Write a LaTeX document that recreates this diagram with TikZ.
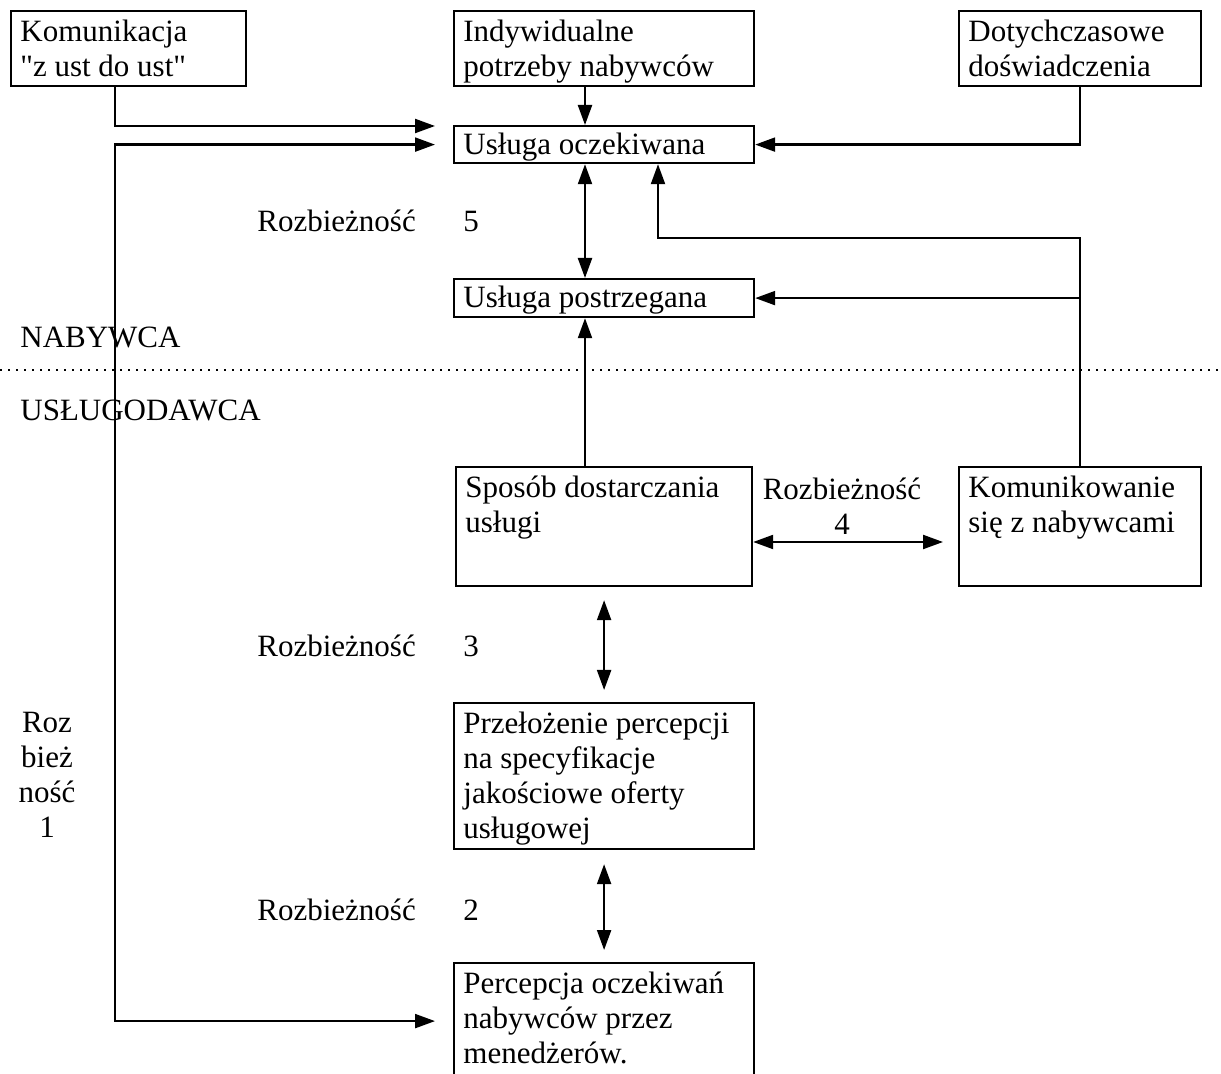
\documentclass[tikz,border=0pt]{standalone}
\usepackage{fontspec}
\setmainfont{Liberation Serif}
\usetikzlibrary{arrows.meta}

\begin{document}
\begin{tikzpicture}[x=0.5pt,y=-0.5pt,font=\fontsize{15.5}{17.5}\selectfont,>={Triangle[length=10pt,width=7pt]},
  box/.style={draw,line width=1.1pt,inner sep=0pt,anchor=north west},
  txt/.style={align=left,inner xsep=5pt,inner ysep=5pt,anchor=north west},
  lbl/.style={inner sep=0pt,anchor=base west},
  ar/.style={->,line width=1.1pt},
  dar/.style={<->,line width=1.1pt}]
\useasboundingbox (0,0) rectangle (1221,1074);
\clip (0,0) rectangle (1221,1074);
% boxes
\node[box,minimum width=117.5pt,minimum height=37.5pt,label={[txt]north west:Komunikacja\\\textquotedbl z ust do ust\textquotedbl}](kom) at (10,10){};
\node[box,minimum width=150pt,minimum height=37.5pt,label={[txt]north west:Indywidualne\\potrzeby nabywców}](ind) at (453,10){};
\node[box,minimum width=121pt,minimum height=37.5pt,label={[txt]north west:Dotychczasowe\\doświadczenia}](dot) at (958,10){};
\node[box,minimum width=150pt,minimum height=18.5pt,label={[txt,inner ysep=4pt]north west:Usługa oczekiwana}](exp) at (453,125){};
\node[box,minimum width=150pt,minimum height=19pt,label={[txt,inner ysep=4pt]north west:Usługa postrzegana}](per) at (453,278){};
\node[box,minimum width=148pt,minimum height=59.5pt,label={[txt]north west:Sposób dostarczania\\usługi}](spo) at (455,466){};
\node[box,minimum width=121pt,minimum height=59.5pt,label={[txt]north west:Komunikowanie\\się z nabywcami}](kcm) at (958,466){};
\node[box,minimum width=150pt,minimum height=73pt,label={[txt]north west:Przełożenie percepcji\\na specyfikacje\\jakościowe oferty\\usługowej}](prz) at (453,702){};
\node[box,minimum width=150pt,minimum height=58pt,label={[txt]north west:Percepcja oczekiwań\\nabywców przez\\menedżerów.}](pcp) at (453,962){};
% labels
\node[lbl](r5) at (257,232){Rozbieżność};
\node[lbl](n5) at (463,232){5};
\node[lbl](nab) at (20,348){NABYWCA};
\node[lbl](usl) at (20,421){USŁUGODAWCA};
\node[inner sep=0pt,align=center,anchor=north](r4) at (842,478){Rozbieżność\\4};
\node[lbl](r3) at (257,657){Rozbieżność};
\node[lbl](n3) at (463,657){3};
\node[lbl](r2) at (257,920){Rozbieżność};
\node[lbl](n2) at (463,920){2};
\node[inner sep=0pt,align=center,anchor=north](r1) at (47,712){Roz\\bież\\ność\\1};
% separator
\draw[line width=1pt,dash pattern=on 0.9pt off 3.1pt] (0,370) -- (1221,370);
% connectors
\coordinate (gx) at (115,0);
\coordinate (ax) at (585,0);
\coordinate (bx) at (658,238);
\coordinate (cy) at (0,542);
\draw[ar,shorten >=9pt] (kom.south -| gx) |- ([yshift=-0.5pt]exp.north west);
\draw[dar,shorten <=9pt,shorten >=9pt] (exp.west) -| (pcp.west -| gx) -- (pcp.west);
\draw[ar] (ind.south -| ax) -- (exp.north -| ax);
\draw[dar] (exp.south -| ax) -- (per.north -| ax);
\draw[ar] (spo.north -| ax) -- (per.south -| ax);
\draw[ar] (dot.south) |- (exp.east);
\draw[ar] (kcm.north) |- (bx) -- (exp.south -| bx);
\draw[ar] (kcm.north) |- (per.east);
\draw[dar,shorten >=7.5pt] (spo.east |- cy) -- (kcm.west |- cy);
\draw[dar,shorten <=6.5pt,shorten >=6pt] (spo.south) -- (prz.north);
\draw[dar,shorten <=7pt,shorten >=6pt] (prz.south) -- (pcp.north);
\end{tikzpicture}
\end{document}
